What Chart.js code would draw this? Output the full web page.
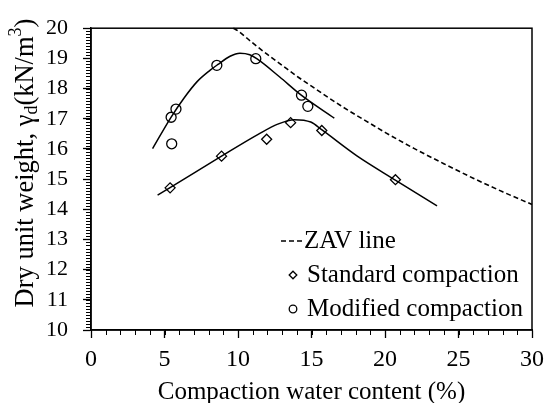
<!DOCTYPE html>
<html>
<head>
<meta charset="utf-8">
<style>
  html, body { margin: 0; padding: 0; background: #fff; }
  #wrap { width: 551px; height: 403px; }
</style>
</head>
<body>
<div id="wrap">
  <canvas id="myChart" width="551" height="403"></canvas>
</div>

<script src="https://cdn.jsdelivr.net/npm/chart.js"></script>
<script>
  const FONT = '"Liberation Serif", "Times New Roman", serif';

  // ZAV line
  const zavW = [9.68, 10, 11, 12, 13, 14, 15, 16, 17, 18, 19, 20, 22, 24, 26, 28, 30];
  const zavGamma = [20.0, 19.91, 19.51, 19.13, 18.77, 18.41, 18.08, 17.75, 17.43, 17.13, 16.84, 16.55, 16.01, 15.51, 15.03, 14.58, 14.16];

  // Standard compaction points and fitted curve
  const stdW = [5.38, 8.88, 11.95, 13.58, 15.7, 20.71];
  const stdGamma = [14.71, 15.76, 16.32, 16.87, 16.61, 14.98];
  const stdFitW = [4.53, 5.38, 8.85, 11.37, 12.7, 13.83, 14.95, 15.74, 18.09, 20.73, 23.54];
  const stdFitGamma = [14.47, 14.72, 15.75, 16.48, 16.82, 16.97, 16.89, 16.62, 15.77, 14.96, 14.11];

  // Modified compaction points and fitted curve
  const modW = [5.49, 5.45, 5.78, 8.56, 11.21, 14.32, 14.75];
  const modGamma = [16.17, 17.05, 17.32, 18.77, 18.99, 17.78, 17.41];
  const modFitW = [4.19, 5.42, 6.32, 7.22, 8.11, 8.61, 9.46, 10.13, 10.8, 11.3, 12.82, 14.28, 16.55];
  const modFitGamma = [16.01, 17.03, 17.68, 18.23, 18.61, 18.79, 19.07, 19.17, 19.12, 18.98, 18.39, 17.79, 17.02];

  // axis ticks
  const xTicks = [0, 5, 10, 15, 20, 25, 30];
  const yTicks = [10, 11, 12, 13, 14, 15, 16, 17, 18, 19, 20];

  const toXY = (xs, ys) => xs.map((v, i) => ({ x: v, y: ys[i] }));

  // draws minor ticks, frame, y title and the legend
  const extras = {
    id: 'extras',
    afterDraw(chart) {
      const { ctx, chartArea: a, scales: { x, y } } = chart;
      ctx.save();
      ctx.strokeStyle = '#000';
      ctx.lineWidth = 1;
      ctx.beginPath();
      for (let v = xTicks[0]; v <= xTicks[xTicks.length - 1]; v += 1) {
        const px = Math.round(x.getPixelForValue(v)) + 0.5;
        ctx.moveTo(px, a.bottom);
        ctx.lineTo(px, a.bottom + 5);
      }
      for (let k = yTicks[0] * 10; k <= yTicks[yTicks.length - 1] * 10; k += 1) {
        const py = Math.round(y.getPixelForValue(k / 10)) + 0.5;
        ctx.moveTo(a.left - 5, py);
        ctx.lineTo(a.left, py);
      }
      ctx.stroke();

      // frame
      ctx.lineWidth = 1.5;
      ctx.strokeRect(a.left, a.top, a.right - a.left, a.bottom - a.top);

      // y axis title with subscript / superscript
      const parts = [
        { t: 'Dry unit weight, γ', s: 26.5, dy: 0 },
        { t: 'd', s: 18, dy: 6 },
        { t: '(kN/m', s: 26.5, dy: 0 },
        { t: '3', s: 18, dy: -10 },
        { t: ')', s: 26.5, dy: 0 }
      ];
      let total = 0;
      parts.forEach(p => { ctx.font = p.s + 'px ' + FONT; p.w = ctx.measureText(p.t).width; total += p.w; });
      ctx.translate(26, 163);
      ctx.rotate(-Math.PI / 2);
      ctx.fillStyle = '#000';
      ctx.textBaseline = 'middle';
      let cx = -total / 2;
      parts.forEach(p => {
        ctx.font = p.s + 'px ' + FONT;
        ctx.fillText(p.t, cx, p.dy);
        cx += p.w;
      });
      ctx.setTransform(1, 0, 0, 1, 0, 0);

      // legend
      const rows = [
        { ds: chart.data.datasets[0], y: 241 },
        { ds: chart.data.datasets[3], y: 275 },
        { ds: chart.data.datasets[4], y: 309 }
      ];
      ctx.textBaseline = 'middle';
      rows.forEach((r, i) => {
        ctx.strokeStyle = '#000';
        if (i === 0) {
          ctx.lineWidth = 1.5;
          ctx.setLineDash([5, 3]);
          ctx.beginPath();
          ctx.moveTo(281, r.y);
          ctx.lineTo(302, r.y);
          ctx.stroke();
          ctx.setLineDash([]);
        } else {
          ctx.lineWidth = 1.3;
          ctx.fillStyle = '#fff';
          Chart.helpers.drawPoint(ctx, {
            pointStyle: r.ds.pointStyle, radius: 3.8, borderWidth: 1.3
          }, 293, r.y);
        }
        ctx.fillStyle = '#000';
        ctx.font = '25px ' + FONT;
        ctx.fillText(r.ds.label, i === 0 ? 304 : 307, r.y);
      });
      ctx.restore();
    }
  };

  const ctx = document.getElementById('myChart');

  new Chart(ctx, {
    type: 'scatter',
    data: {
      datasets: [
        {
          label: 'ZAV line',
          type: 'line',
          data: toXY(zavW, zavGamma),
          borderColor: '#000',
          borderWidth: 1.6,
          borderDash: [5, 3],
          pointRadius: 0,
          cubicInterpolationMode: 'monotone',
          fill: false
        },
        {
          label: 'Standard fit',
          type: 'line',
          data: toXY(stdFitW, stdFitGamma),
          borderColor: '#000',
          borderWidth: 1.5,
          pointRadius: 0,
          cubicInterpolationMode: 'monotone',
          fill: false
        },
        {
          label: 'Modified fit',
          type: 'line',
          data: toXY(modFitW, modFitGamma),
          borderColor: '#000',
          borderWidth: 1.5,
          pointRadius: 0,
          cubicInterpolationMode: 'monotone',
          fill: false
        },
        {
          label: 'Standard compaction',
          data: toXY(stdW, stdGamma),
          pointStyle: 'rectRot',
          pointRadius: 5,
          pointBorderWidth: 1.3,
          borderColor: '#000',
          backgroundColor: '#fff'
        },
        {
          label: 'Modified compaction',
          data: toXY(modW, modGamma),
          pointStyle: 'circle',
          pointRadius: 5,
          pointBorderWidth: 1.3,
          borderColor: '#000',
          backgroundColor: '#fff'
        }
      ]
    },
    options: {
      responsive: false,
      animation: false,
      clip: false,
      layout: { padding: { top: 24, right: 14, left: 0, bottom: 0 } },
      plugins: {
        legend: { display: false },
        tooltip: { enabled: false }
      },
      scales: {
        x: {
          type: 'linear',
          min: 0,
          max: 30,
          afterFit: s => { s.height = 73; },
          afterBuildTicks: s => { s.ticks = xTicks.map(v => ({ value: v })); },
          ticks: {
            color: '#000',
            font: { family: FONT, size: 24 },
            padding: 7
          },
          grid: {
            drawOnChartArea: false,
            drawTicks: true,
            tickLength: 8,
            tickColor: '#000',
            tickWidth: 1.3
          },
          border: { display: true, color: '#000', width: 1.5 },
          title: {
            display: true,
            text: 'Compaction water content (%)',
            color: '#000',
            font: { family: FONT, size: 25, lineHeight: 1 },
            padding: { top: 0, bottom: -2 }
          }
        },
        y: {
          type: 'linear',
          min: 10,
          max: 20,
          afterFit: s => { s.width = 91; },
          afterBuildTicks: s => { s.ticks = yTicks.map(v => ({ value: v })); },
          ticks: {
            color: '#000',
            font: { family: FONT, size: 22 },
            padding: 15
          },
          grid: {
            drawOnChartArea: false,
            drawTicks: true,
            tickLength: 8,
            tickColor: '#000',
            tickWidth: 1.3
          },
          border: { display: true, color: '#000', width: 1.5 }
        }
      }
    },
    plugins: [extras]
  });
</script>
</body>
</html>
